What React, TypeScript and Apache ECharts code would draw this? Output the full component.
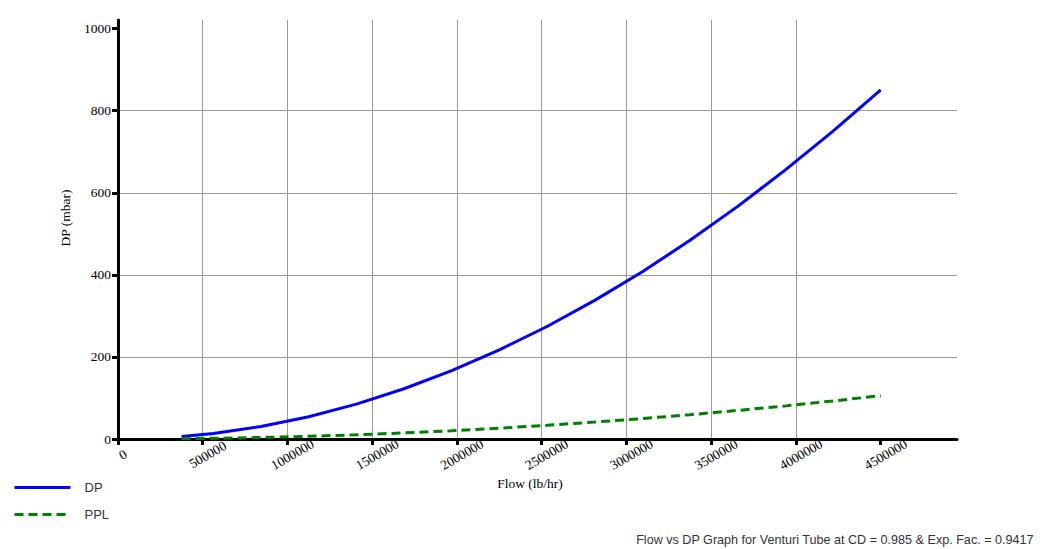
import React, { useEffect, useRef } from "react";
import * as echarts from "echarts";

const flows = [375000, 562500, 843750, 1125000, 1406250, 1687500, 1968750, 2250000, 2531250, 2812500, 3093750, 3375000, 3656250, 3937500, 4218750, 4500000];
const dpValues = [6.0, 13.6, 30.6, 54.4, 85.0, 122.5, 166.7, 217.2, 274.2, 337.8, 407.7, 484.1, 566.8, 655.8, 750.2, 851];
const pplValues = [0.7, 1.7, 3.7, 6.6, 10.3, 14.8, 20.2, 26.4, 33.4, 41.2, 49.8, 59.3, 69.6, 80.7, 92.7, 105.5];

const xTicks = [0, 500000, 1000000, 1500000, 2000000, 2500000, 3000000, 3500000, 4000000, 4500000];
const yTicks = [0, 200, 400, 600, 800, 1000];

const seriesNames = ["DP", "PPL"];
const chartTitle = "Flow vs DP Graph for Venturi Tube at CD = 0.985 & Exp. Fac. = 0.9417";
const xName = "Flow (lb/hr)";
const yName = "DP (mbar)";

const SERIF = "'Liberation Serif', 'Times New Roman', serif";
const SANS = "'Liberation Sans', Arial, sans-serif";

export default function App() {
  const ref = useRef<HTMLDivElement>(null);
  useEffect(() => {
    if (!ref.current) return;
    const chart = echarts.init(ref.current, null, { renderer: "svg" });
    const dpData = flows.map((f, i) => [f, dpValues[i]]);
    const pplData = flows.map((f, i) => [f, pplValues[i]]);
    chart.setOption({
      animation: false,
      backgroundColor: "#ffffff",
      title: {
        text: chartTitle,
        right: 17,
        top: 533,
        padding: 0,
        textStyle: { fontSize: 12.6, fontWeight: "normal", fontFamily: SANS, color: "#333" },
      },
      legend: {
        data: seriesNames,
        orient: "vertical",
        left: 13,
        top: 481,
        itemWidth: 56,
        itemHeight: 14,
        itemGap: 14,
        padding: 0,
        itemStyle: { opacity: 0 },
        lineStyle: { width: 3 },
        textStyle: { fontSize: 13, fontFamily: SANS, color: "#333", padding: [0, 0, 7, 9] },
      },
      grid: { left: 118, right: 94, top: 20, bottom: 110, containLabel: false },
      xAxis: {
        type: "value",
        min: 0,
        max: 4950000,
        interval: 500000,
        axisLine: { show: true, onZero: false, lineStyle: { color: "#000", width: 3 } },
        axisTick: { show: true, length: 6, lineStyle: { color: "#000", width: 3 }, customValues: xTicks },
        axisLabel: {
          customValues: xTicks,
          formatter: (v: number) => String(v),
          rotate: 30,
          align: "center",
          verticalAlign: "top",
          lineHeight: 20,
          margin: 7,
          fontSize: 13.5,
          fontFamily: SERIF,
          color: "#000",
        },
        splitLine: { show: true, showMaxLine: false, lineStyle: { color: "#999", width: 1 } },
      },
      yAxis: {
        type: "value",
        min: 0,
        max: 1021,
        interval: 200,
        axisLine: { show: true, onZero: false, lineStyle: { color: "#000", width: 3 } },
        axisTick: { show: true, length: 6, lineStyle: { color: "#000", width: 3 }, customValues: yTicks },
        axisLabel: {
          customValues: yTicks,
          formatter: (v: number) => String(v),
          margin: 7,
          fontSize: 13.5,
          fontFamily: SERIF,
          color: "#000",
        },
        splitLine: { show: true, showMaxLine: false, lineStyle: { color: "#999", width: 1 } },
      },
      graphic: [
        {
          type: "text",
          x: 530,
          y: 483,
          style: { text: xName, font: `13.5px ${SERIF}`, fill: "#000", align: "center", verticalAlign: "middle" },
        },
        {
          type: "text",
          x: 65,
          y: 218,
          rotation: Math.PI / 2,
          style: { text: yName, font: `13.5px ${SERIF}`, fill: "#000", align: "center", verticalAlign: "middle" },
        },
      ],
      series: [
        {
          name: seriesNames[0],
          type: "line",
          data: dpData,
          symbol: "none",
          showSymbol: false,
          lineStyle: { color: "#0000ff", width: 3 },
          itemStyle: { color: "#0000ff" },
        },
        {
          name: seriesNames[1],
          type: "line",
          data: pplData,
          symbol: "none",
          showSymbol: false,
          lineStyle: { color: "#008000", width: 3, type: [9, 5] },
          itemStyle: { color: "#008000" },
        },
      ],
    });
    return () => chart.dispose();
  }, []);
  return (
    <div
      ref={ref}
      style={{ position: "fixed", left: 0, top: 0, width: 1051, height: 549, background: "#fff" }}
    />
  );
}
